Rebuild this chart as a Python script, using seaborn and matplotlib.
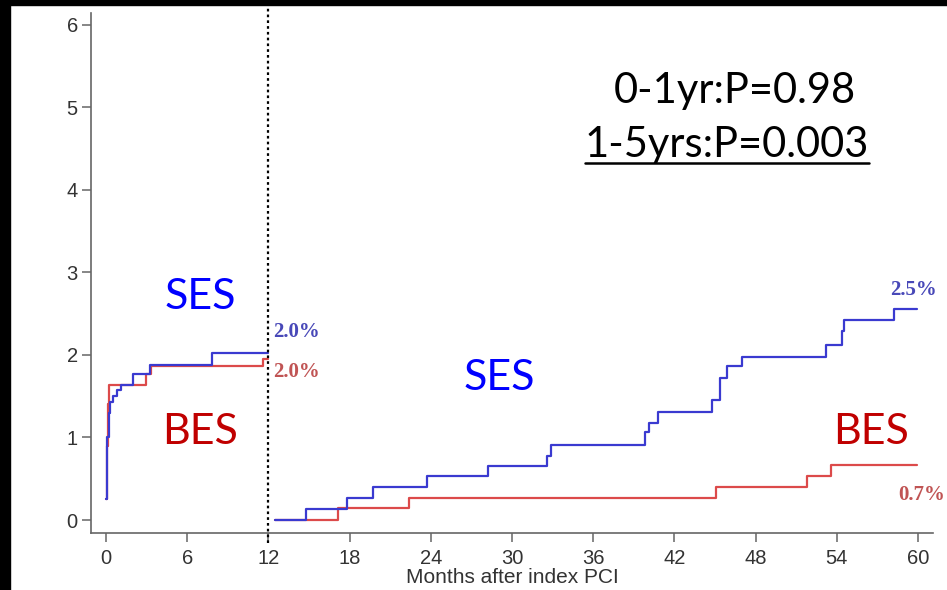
import numpy as np
import pandas as pd
import matplotlib
matplotlib.use("Agg")
import matplotlib.pyplot as plt
from matplotlib.patches import Rectangle
from matplotlib.lines import Line2D
import seaborn as sns

# ---- data ----
ses_t1 = [0.0, 0.05, 0.1, 0.2, 0.3, 0.55, 0.8, 1.1, 2.0, 3.25, 7.8, 12.0]
ses_v1 = [0.25, 0.6, 1.0, 1.3, 1.43, 1.5, 1.57, 1.63, 1.77, 1.88, 2.02, 2.02]
bes_t1 = [0.0, 0.06, 0.12, 0.2, 2.95, 3.3, 11.6, 12.0]
bes_v1 = [0.25, 0.9, 1.4, 1.63, 1.77, 1.86, 1.95, 1.95]

ses_t2 = [12.5, 14.8, 17.8, 19.7, 23.7, 28.2, 32.6, 32.9, 39.85, 40.1, 40.8,
          44.75, 45.4, 45.9, 47.0, 53.2, 54.4, 54.5, 58.2, 59.9]
ses_v2 = [0.0, 0.13, 0.265, 0.40, 0.53, 0.66, 0.78, 0.91, 1.06, 1.18, 1.31,
          1.45, 1.72, 1.86, 1.98, 2.12, 2.29, 2.42, 2.56, 2.56]
bes_t2 = [12.5, 17.15, 22.4, 45.1, 51.8, 53.6, 59.9]
bes_v2 = [0.0, 0.14, 0.27, 0.395, 0.53, 0.67, 0.67]

x_ticks = [0, 6, 12, 18, 24, 30, 36, 42, 48, 54, 60]
y_ticks = [0, 1, 2, 3, 4, 5, 6]
landmark = 12
x_label = "Months after index PCI"
p_texts = ["0-1yr:P=0.98", "1-5yrs:P=0.003"]
end_labels = {"ses1": "2.0%", "bes1": "2.0%", "ses2": "2.5%", "bes2": "0.7%"}

# ---- style ----
sns.set_theme(style="white")
plt.rcParams["font.family"] = ["Liberation Sans", "DejaVu Sans"]

BLUE = "#3a3ad0"
RED = "#dc4a4a"

W, H = 947, 590
fig = plt.figure(figsize=(W / 100, H / 100), dpi=100)
fig.patch.set_facecolor("white")
ax = fig.add_axes([91 / W, 57.5 / H, 842 / W, 519.5 / H])
ax.set_facecolor("white")

def seg(t, v, color):
    df = pd.DataFrame({"t": t, "v": v})
    sns.lineplot(data=df, x="t", y="v", ax=ax, color=color, lw=1.6,
                 drawstyle="steps-post", estimator=None, errorbar=None,
                 sort=False, legend=False)

seg(bes_t1, bes_v1, RED)
seg(ses_t1, ses_v1, BLUE)
seg(bes_t2, bes_v2, RED)
seg(ses_t2, ses_v2, BLUE)

ax.set_xlim(-1.108, 61.11)
ax.set_ylim(-0.151, 6.14)
ax.set_xticks(x_ticks)
ax.set_yticks(y_ticks)
ax.set_xlabel(x_label, fontsize=15, color="#333333", labelpad=0)
ax.set_ylabel("")
for s in ["top", "right"]:
    ax.spines[s].set_visible(False)
for s in ["left", "bottom"]:
    ax.spines[s].set_color("#666666")
    ax.spines[s].set_linewidth(1.2)
ax.tick_params(axis="both", which="major", direction="out", length=6.5,
               width=1.1, color="#666666", labelcolor="#333333", labelsize=14.5,
               bottom=True, left=True)
ax.tick_params(axis="x", pad=5.5)
ax.tick_params(axis="y", pad=3)

# landmark dotted line
ax.axvline(landmark, ymin=-0.021, ymax=1.016, clip_on=False, color="black",
           lw=1.6, linestyle=(0, (1.2, 1.4)))

# group labels
big = dict(family=["Lato", "DejaVu Sans"], fontsize=31, ha="center", va="center")
ax.text(6.95, 2.70, "SES", color="#0000ff", **big)
ax.text(6.95, 1.065, "BES", color="#c00000", **big)
ax.text(29.1, 1.72, "SES", color="#0000ff", **big)
ax.text(56.5, 1.065, "BES", color="#c00000", **big)

# end-point percentages
pct = dict(family=["Liberation Serif", "DejaVu Serif"], fontsize=15,
           fontweight="bold", ha="left", va="center", clip_on=False)
ax.text(12.34, 2.28, end_labels["ses1"], color="#4848b8", **pct)
ax.text(12.34, 1.79, end_labels["bes1"], color="#c05454", **pct)
ax.text(57.93, 2.78, end_labels["ses2"], color="#4848b8", **pct)
ax.text(58.52, 0.30, end_labels["bes2"], color="#c05454", **pct)

# p-values
pv = dict(family=["Lato", "DejaVu Sans"], fontsize=30, ha="center",
          va="baseline", color="black")
ax.text(46.5, 5.05, p_texts[0], **pv)
t2 = ax.text(45.9, 4.40, p_texts[1], **pv)

# frame bands of the screenshot
fig.patches.append(Rectangle((0, 0), 10 / W, 1, transform=fig.transFigure,
                             color="black", zorder=10))
fig.patches.append(Rectangle((0, 1 - 5 / H), 1, 5 / H, transform=fig.transFigure,
                             color="black", zorder=10))

# underline second p-value text
fig.canvas.draw()
bb = t2.get_window_extent(renderer=fig.canvas.get_renderer())
uy = bb.y0 + 1
fig.add_artist(Line2D([bb.x0 / W, bb.x1 / W], [uy / H, uy / H],
                      transform=fig.transFigure, color="black", lw=1.8))

fig.savefig("out.png", dpi=100, facecolor="white")
